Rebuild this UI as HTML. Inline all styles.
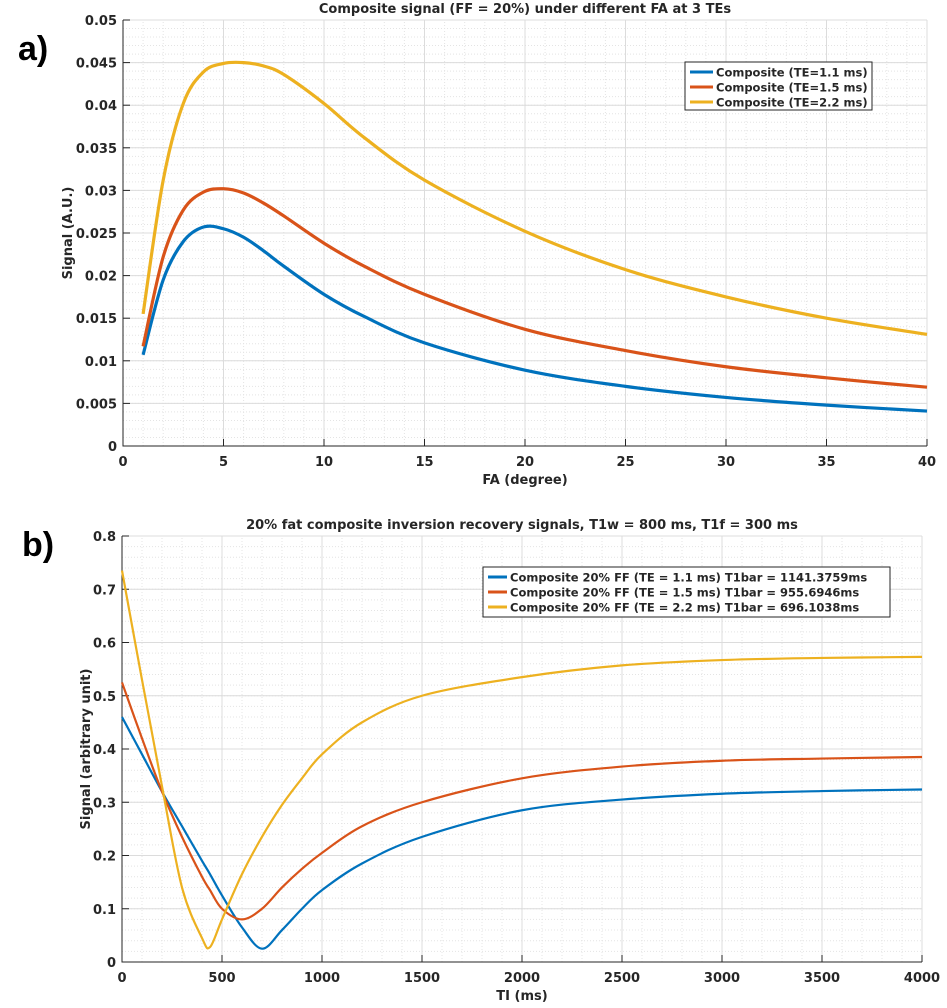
<!DOCTYPE html>
<html><head><meta charset="utf-8"><style>
body{margin:0;background:#fff;width:947px;height:1003px;overflow:hidden;font-family:"Liberation Sans",sans-serif}
svg text{font-family:"DejaVu Sans","Liberation Sans",sans-serif;font-weight:bold;fill:#262626}
</style></head><body>
<svg id="s" width="947" height="1003">
<text x="18" y="60" style="font-family:'Liberation Sans',sans-serif;font-size:34px;fill:#000">a)</text>
<text x="22" y="556" style="font-family:'Liberation Sans',sans-serif;font-size:34px;fill:#000">b)</text>
</svg>
<script>
// Panel a data
const faX=[1,2,3,4,5,6,7,8,10,12,15,20,25,30,35,40];
const aBlue=[0.0107,0.0195,0.0240,0.0257,0.0255,0.0245,0.0229,0.0211,0.0178,0.0152,0.0121,0.0089,0.0070,0.0057,0.0048,0.0041];
const aRed=[0.0117,0.0222,0.0277,0.0298,0.0302,0.0297,0.0285,0.0270,0.0238,0.0211,0.0178,0.0137,0.0112,0.0093,0.0080,0.0069];
const aYellow=[0.0155,0.0312,0.0402,0.0439,0.0449,0.0450,0.0446,0.0436,0.0402,0.0362,0.0312,0.0252,0.0207,0.0175,0.0150,0.0131];
const aXTicks=[0,5,10,15,20,25,30,35,40];
const aYTicks=[0,0.005,0.01,0.015,0.02,0.025,0.03,0.035,0.04,0.045,0.05];
const aLegend=["Composite (TE=1.1 ms)","Composite (TE=1.5 ms)","Composite (TE=2.2 ms)"];
// Panel b data
const tiX=[0,100,200,300,400,440,500,600,700,800,900,1000,1200,1500,2000,2500,3000,3500,4000];
const bBlue=[0.46,0.39,0.32,0.255,0.19,0.165,0.125,0.065,0.025,0.06,0.10,0.135,0.185,0.235,0.285,0.305,0.316,0.321,0.324];
const bRed=[0.525,0.42,0.32,0.235,0.16,0.135,0.10,0.08,0.10,0.14,0.175,0.205,0.255,0.30,0.345,0.367,0.378,0.382,0.385];
const bYellow=[0.735,0.53,0.33,0.14,0.045,0.028,0.08,0.165,0.235,0.295,0.345,0.39,0.45,0.50,0.535,0.557,0.567,0.571,0.573];
const bXTicks=[0,500,1000,1500,2000,2500,3000,3500,4000];
const bYTicks=[0,0.1,0.2,0.3,0.4,0.5,0.6,0.7,0.8];
const bLegend=["Composite 20% FF (TE = 1.1 ms) T1bar = 1141.3759ms","Composite 20% FF (TE = 1.5 ms) T1bar = 955.6946ms","Composite 20% FF (TE = 2.2 ms) T1bar = 696.1038ms"];
const colors=["#0072BD","#D95319","#EDB120"];
const NS="http://www.w3.org/2000/svg", svg=document.getElementById('s');
function mk(t,a,p){const e=document.createElementNS(NS,t);for(const k in a)e.setAttribute(k,a[k]);(p||svg).appendChild(e);return e;}
function smooth(pts){let d=`M${pts[0][0]},${pts[0][1]}`;for(let i=0;i<pts.length-1;i++){const p0=pts[i-1]||pts[i],p1=pts[i],p2=pts[i+1],p3=pts[i+2]||p2;
d+=` C${p1[0]+(p2[0]-p0[0])/6},${p1[1]+(p2[1]-p0[1])/6} ${p2[0]-(p3[0]-p1[0])/6},${p2[1]-(p3[1]-p1[1])/6} ${p2[0]},${p2[1]}`;}return d;}
function panel(o){
 const g=mk('g',{});
 
 
 const X=v=>o.x0+(v-o.xmin)/(o.xmax-o.xmin)*(o.x1-o.x0), Y=v=>o.y0-(v-o.ymin)/(o.ymax-o.ymin)*(o.y0-o.y1);
 for(let v=o.xmin;v<=o.xmax+1e-9;v+=o.xminor){const l=mk('line',{x1:X(v),x2:X(v),y1:o.y0,y2:o.y1,stroke:'#e4e4e4','stroke-dasharray':'1,2','stroke-width':1},g);}
 for(let v=o.ymin;v<=o.ymax+1e-9;v+=o.yminor){const l=mk('line',{x1:o.x0,x2:o.x1,y1:Y(v),y2:Y(v),stroke:'#e4e4e4','stroke-dasharray':'1,2','stroke-width':1},g);}
 o.xt.forEach(v=>{const l=mk('line',{x1:X(v),x2:X(v),y1:o.y0,y2:o.y1,stroke:'#dcdcdc'},g);
  const t=mk('text',{x:X(v),y:o.y0+20,'text-anchor':'middle','font-size':13},g);t.textContent=v;
  mk('line',{x1:X(v),x2:X(v),y1:o.y0,y2:o.y0-7,stroke:'#262626'},g);});
 o.yt.forEach(v=>{const l=mk('line',{x1:o.x0,x2:o.x1,y1:Y(v),y2:Y(v),stroke:'#dcdcdc'},g);
  const t=mk('text',{x:o.x0-6,y:Y(v)+5,'text-anchor':'end','font-size':13},g);t.textContent=String(+v.toFixed(3));
  mk('line',{x1:o.x0,x2:o.x0+7,y1:Y(v),y2:Y(v),stroke:'#262626'},g);});
 const ax=mk('path',{d:`M${o.x0},${o.y1}V${o.y0}H${o.x1}`,fill:'none',stroke:'#262626'},g);
 o.series.forEach((s,i)=>{const pts=o.xs.map((x,j)=>[X(x),Y(s[j])]);
  const p=mk('path',{d:smooth(pts),fill:'none',stroke:colors[i],'stroke-width':o.sw,'stroke-linejoin':'round'},g);
  });
 let t=mk('text',{x:(o.x0+o.x1)/2,y:o.y1-7,'text-anchor':'middle','font-size':13},g);t.textContent=o.title;
 t=mk('text',{x:(o.x0+o.x1)/2,y:o.y0+38,'text-anchor':'middle','font-size':13},g);t.textContent=o.xl;
 const cy=(o.y0+o.y1)/2;t=mk('text',{x:o.ylx,y:cy,'text-anchor':'middle','font-size':13,transform:`rotate(-90 ${o.ylx} ${cy})`},g);t.textContent=o.yl;
 const L=o.leg;const lg=mk('g',{},g);
 mk('rect',{x:L.x,y:L.y,width:L.w,height:L.h,fill:'#fff',stroke:'#262626'},lg);
 o.labels.forEach((s,i)=>{const yy=L.y+10+i*15;mk('line',{x1:L.x+5,x2:L.x+L.lw,y1:yy,y2:yy,stroke:colors[i],'stroke-width':3},lg);
  const e=mk('text',{x:L.x+L.lw+3,y:yy+4.5,'font-size':11.5,fill:'#000'},lg);e.textContent=s;});
}
panel({name:'chart-a',x0:123,x1:927,y0:446,y1:20,xmin:0,xmax:40,ymin:0,ymax:0.05,xminor:1,yminor:0.001,xt:aXTicks,yt:aYTicks,xs:faX,series:[aBlue,aRed,aYellow],sw:3.2,
 title:'Composite signal (FF = 20%) under different FA at 3 TEs',xl:'FA (degree)',yl:'Signal (A.U.)',ylx:72,labels:aLegend,leg:{x:685,y:62,w:187,h:48,lw:28}});
panel({name:'chart-b',x0:122,x1:922,y0:962,y1:536,xmin:0,xmax:4000,ymin:0,ymax:0.8,xminor:100,yminor:0.02,xt:bXTicks,yt:bYTicks,xs:tiX,series:[bBlue,bRed,bYellow],sw:2.2,
 title:'20% fat composite inversion recovery signals, T1w = 800 ms, T1f = 300 ms',xl:'TI (ms)',yl:'Signal (arbitrary unit)',ylx:90,labels:bLegend,leg:{x:483,y:567,w:407,h:50,lw:24}});
</script>
</body></html>
